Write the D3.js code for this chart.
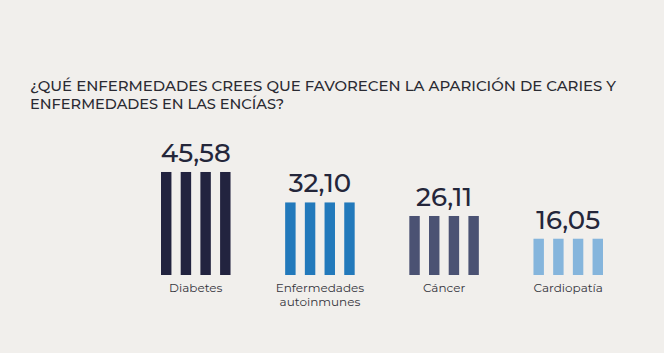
<!DOCTYPE html>
<html>
<head>
<meta charset="utf-8">
<script src="https://cdn.jsdelivr.net/npm/d3@7"></script>
<style>
  body { margin: 0; background: #f1efec; }
  svg { display: block; }
</style>
</head>
<body>
<div id="plot"></div>
<script>
// data
var categories = ["Diabetes", "Enfermedades\nautoinmunes", "Cáncer", "Cardiopatía"];
var values = [45.58, 32.10, 26.11, 16.05];
var valueLabels = ["45,58", "32,10", "26,11", "16,05"];
var colors = ["#22233f", "#2279bb", "#4b5273", "#85b5dc"];
var titleLines = ["¿QUÉ ENFERMEDADES CREES QUE FAVORECEN LA APARICIÓN DE CARIES Y",
                  "ENFERMEDADES EN LAS ENCÍAS?"];

var svg = d3.select("div#plot")
  .append("svg")
  .attr("width", 664)
  .attr("height", 353);

svg.append("rect")
  .attr("width", 664)
  .attr("height", 353)
  .attr("fill", "#f1efec");

var font = "Montserrat, 'DejaVu Sans', sans-serif";

// title
svg.selectAll("text.title")
  .data(titleLines)
  .enter().append("text")
  .attr("class", "title")
  .attr("x", 30)
  .attr("y", (d, i) => 91 + i * 18)
  .style("font-family", font)
  .style("font-size", "15px")
  .style("font-weight", 500)
  .attr("fill", "#2a2a32")
  .attr("textLength", (d, i) => i == 0 ? 586 : 254)
  .attr("lengthAdjust", "spacingAndGlyphs")
  .text(d => d);

var xScale = d3.scaleBand()
  .domain(categories)
  .range([161, 603])
  .paddingInner(0.44)
  .paddingOuter(0);

var stripe = d3.scaleBand()
  .domain([0, 1, 2, 3])
  .range([0, xScale.bandwidth()])
  .paddingInner(0.47)
  .paddingOuter(0);

var yScale = d3.scaleLinear()
  .domain([0, 50])
  .range([275, 162]);

var groups = svg.selectAll("g.cat")
  .data(categories)
  .enter().append("g")
  .attr("class", "cat")
  .attr("transform", d => `translate(${xScale(d)},0)`);

groups.each(function(d, i) {
  var g = d3.select(this);
  g.selectAll("rect")
    .data(stripe.domain())
    .enter().append("rect")
    .attr("x", s => stripe(s))
    .attr("width", stripe.bandwidth())
    .attr("y", yScale(values[i]))
    .attr("height", yScale(0) - yScale(values[i]))
    .attr("fill", colors[i]);

  // value label
  g.append("text")
    .attr("x", xScale.bandwidth() / 2)
    .attr("y", yScale(values[i]) - 10)
    .attr("text-anchor", "middle")
    .style("font-family", font)
    .style("font-size", "26px")
    .style("font-weight", 500)
    .attr("fill", "#24263a")
    .text(valueLabels[i]);

  // category label
  var lines = d.split("\n");
  g.selectAll("text.cat")
    .data(lines)
    .enter().append("text")
    .attr("class", "cat")
    .attr("x", xScale.bandwidth() / 2)
    .attr("y", (l, j) => 292 + j * 14)
    .attr("text-anchor", "middle")
    .style("font-family", font)
    .style("font-size", "12px")
    .attr("fill", "#35353c")
    .text(l => l);
});
</script>
</body>
</html>
